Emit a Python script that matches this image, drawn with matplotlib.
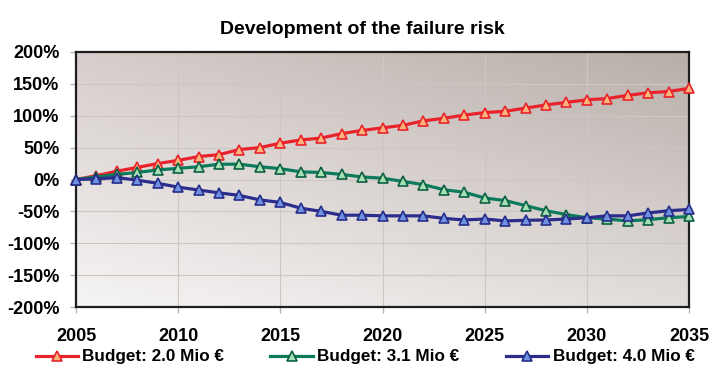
import numpy as np
import matplotlib
matplotlib.use("Agg")
import matplotlib.pyplot as plt

plt.rcParams['font.family'] = ['Liberation Sans', 'DejaVu Sans']
plt.rcParams['font.weight'] = 'bold'

years = list(range(2005, 2036))

budget_20 = [0, 6, 13, 19, 25, 30, 36, 39, 47, 50, 57, 62, 65, 72, 77, 81,
             85, 92, 96, 101, 105, 107, 112, 117, 121, 125, 127, 132, 136, 138, 143]
budget_31 = [0, 4, 8, 11, 15, 17.5, 20, 24, 24, 20, 17, 12, 11, 8, 4, 2,
             -3, -8, -16, -20, -29, -33, -41, -49, -55, -60, -62, -65, -63, -60, -58]
budget_40 = [0, 1, 3, -1, -6, -12, -16.5, -21, -25, -32, -36, -45, -50, -56, -56, -57,
             -57, -57, -61, -63.5, -62, -65, -64, -63.5, -62, -60, -57, -57, -52.5, -49, -47]

labels = ["Budget: 2.0 Mio €", "Budget: 3.1 Mio €", "Budget: 4.0 Mio €"]
yticks = [-200, -150, -100, -50, 0, 50, 100, 150, 200]
xticks = [2005, 2010, 2015, 2020, 2025, 2030, 2035]

fig = plt.figure(figsize=(7.2, 3.82), dpi=100)
ax = fig.add_axes([76 / 720, 1 - 307 / 382, (689 - 76) / 720, (307 - 52) / 382])

# background gradient: light at bottom-left, darker towards top-right
tl = np.array([214, 206, 203]) / 255
tr = np.array([184, 174, 169]) / 255
bl = np.array([246, 244, 244]) / 255
br = np.array([226, 221, 219]) / 255
u = np.linspace(0, 1, 200)[None, :, None]
v = np.linspace(1, 0, 120)[:, None, None]
grad = (1 - v) * ((1 - u) * bl + u * br) + v * ((1 - u) * tl + u * tr)
ax.imshow(grad, extent=[0, 1, 0, 1], transform=ax.transAxes, aspect='auto', zorder=0)

styles = [
    dict(color='#e8232b', mfc='#fbb57c', mec='#e8232b'),
    dict(color='#0b7b5b', mfc='#a3e0b3', mec='#0d5e43'),
    dict(color='#2b2c8c', mfc='#7091e2', mec='#262e8a'),
]
for vals, lab, st in zip([budget_20, budget_31, budget_40], labels, styles):
    ax.plot(years, vals, '-^', lw=2.3, ms=7.5, mew=1.2, label=lab, zorder=3,
            clip_on=False, **st)

ax.set_xlim(2005, 2035)
ax.set_ylim(-200, 200)
ax.set_xticks(xticks)
ax.set_yticks(yticks)
ax.set_yticklabels([f"{t}%" for t in yticks])
ax.grid(True, color='#cdc6c2', lw=0.8, zorder=1)
ax.set_axisbelow(True)
ax.tick_params(direction='out', length=4, width=1, color='#b5b5b5', labelsize=13, pad=8)
ax.tick_params(axis='x', pad=11)
for sp in ax.spines.values():
    sp.set_color('#1e1e1e')
    sp.set_linewidth(1.6)

fig.text(0.503, 1 - 30 / 382, "Development of the failure risk", ha='center', va='center',
         fontsize=14, fontweight='bold')

fig.legend(loc='center', bbox_to_anchor=(0.507, 1 - 357 / 382), ncol=3, frameon=False,
           fontsize=12.3, handlelength=2.5, handletextpad=0.25, columnspacing=2.7,
           borderaxespad=0)

fig.savefig("out.png", dpi=100)
